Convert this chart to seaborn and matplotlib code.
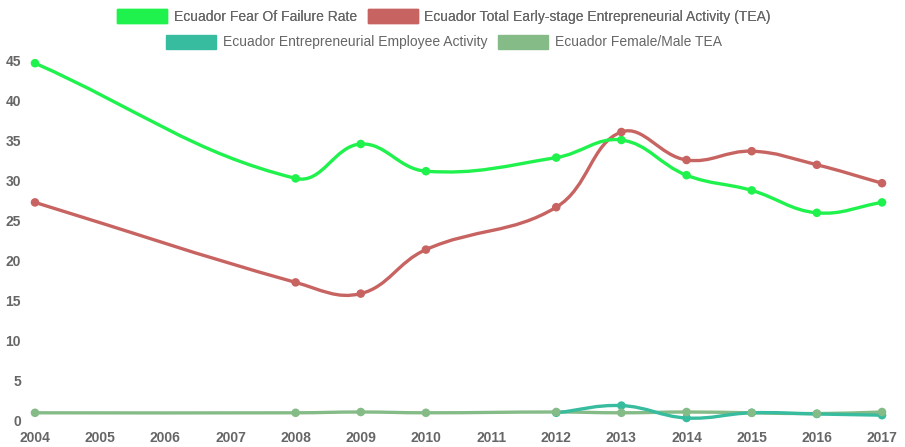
import numpy as np
import pandas as pd
import matplotlib
matplotlib.use("Agg")
import matplotlib.pyplot as plt
from matplotlib.path import Path
from matplotlib.patches import PathPatch, Patch
import seaborn as sns

years = [2004, 2008, 2009, 2010, 2012, 2013, 2014, 2015, 2016, 2017]
fear_of_failure = [44.6, 30.2, 34.5, 31.1, 32.8, 35.0, 30.6, 28.7, 25.9, 27.2]
tea = [27.2, 17.2, 15.8, 21.3, 26.6, 36.0, 32.5, 33.6, 31.9, 29.6]
employee_years = [2012, 2013, 2014, 2015, 2016, 2017]
employee_activity = [0.9, 1.8, 0.25, 0.9, 0.75, 0.6]
female_male_tea = [0.9, 0.9, 1.0, 0.9, 1.0, 0.9, 1.0, 0.9, 0.8, 1.0]

series_names = [
    "Ecuador Fear Of Failure Rate",
    "Ecuador Total Early-stage Entrepreneurial Activity (TEA)",
    "Ecuador Entrepreneurial Employee Activity",
    "Ecuador Female/Male TEA",
]
colors = ["#1ff24c", "#c76462", "#38bc9f", "#85bb86"]
x_ticks = list(range(2004, 2018))
y_ticks = list(range(0, 50, 5))

series = [
    (years, fear_of_failure),
    (years, tea),
    (employee_years, employee_activity),
    (years, female_male_tea),
]

# long-form table for the markers
df = pd.concat(
    [pd.DataFrame({"year": x, "value": y, "series": name})
     for (x, y), name in zip(series, series_names)],
    ignore_index=True,
)


def spline_path(xs, ys, sx, sy, tension=0.4):
    # Chart.js style cubic bezier through the points (computed in pixel space)
    p = np.column_stack([np.asarray(xs, float) * sx, np.asarray(ys, float) * sy])
    n = len(p)
    cp_prev, cp_next = [], []
    for i in range(n):
        a = p[max(i - 1, 0)]
        b = p[i]
        c = p[min(i + 1, n - 1)]
        d01 = np.hypot(*(b - a))
        d12 = np.hypot(*(c - b))
        tot = d01 + d12
        s01 = d01 / tot if tot else 0
        s12 = d12 / tot if tot else 0
        cp_prev.append(b - tension * s01 * (c - a))
        cp_next.append(b + tension * s12 * (c - a))
    verts = [p[0]]
    codes = [Path.MOVETO]
    for i in range(n - 1):
        verts += [cp_next[i], cp_prev[i + 1], p[i + 1]]
        codes += [Path.CURVE4] * 3
    verts = np.array(verts) / [sx, sy]
    return Path(verts, codes)


sns.set_style("white")
plt.rcParams["font.family"] = ["Liberation Sans", "DejaVu Sans"]

fig = plt.figure(figsize=(9.05, 4.47), dpi=100)
ax = fig.add_axes([35 / 905, 27 / 447, 847 / 905, 360 / 447])

for k, ((x, y), color) in enumerate(zip(series, colors)):
    z = 10 - 2 * k
    ax.add_patch(PathPatch(spline_path(x, y, 65.15, 8.0), facecolor="none",
                           edgecolor=color, lw=2.4, zorder=z,
                           capstyle="round", joinstyle="round"))

sns.scatterplot(data=df, x="year", y="value", hue="series",
                palette=dict(zip(series_names, colors)), s=38,
                edgecolor="none", legend=False, ax=ax, zorder=12, clip_on=False)

ax.set_xlim(2004, 2017)
ax.set_ylim(0, 45)
ax.set_xticks(x_ticks)
ax.set_xticklabels([str(t) for t in x_ticks])
ax.set_yticks(y_ticks)
ax.set_xlabel("")
ax.set_ylabel("")
ax.tick_params(axis="both", length=0, colors="#666666", labelsize=10)
ax.tick_params(axis="y", pad=10)
ax.tick_params(axis="x", pad=8)
for lbl in ax.get_xticklabels() + ax.get_yticklabels():
    lbl.set_fontweight("bold")
sns.despine(ax=ax, left=True, bottom=True)

handles = [Patch(facecolor=c, edgecolor=c, lw=1) for c in colors]
leg_kw = dict(loc="center", ncol=2, frameon=False, fontsize=10,
              handlelength=3.6, handleheight=1.2, columnspacing=0.8,
              handletextpad=0.45, labelcolor="#666666")
leg1 = fig.legend(handles[:2], series_names[:2],
                  bbox_to_anchor=(444 / 905, 1 - 16.5 / 447), **leg_kw)
leg2 = fig.legend(handles[2:], series_names[2:],
                  bbox_to_anchor=(444 / 905, 1 - 42 / 447), **leg_kw)
fig.add_artist(leg1)

fig.savefig("out.png", dpi=100)
